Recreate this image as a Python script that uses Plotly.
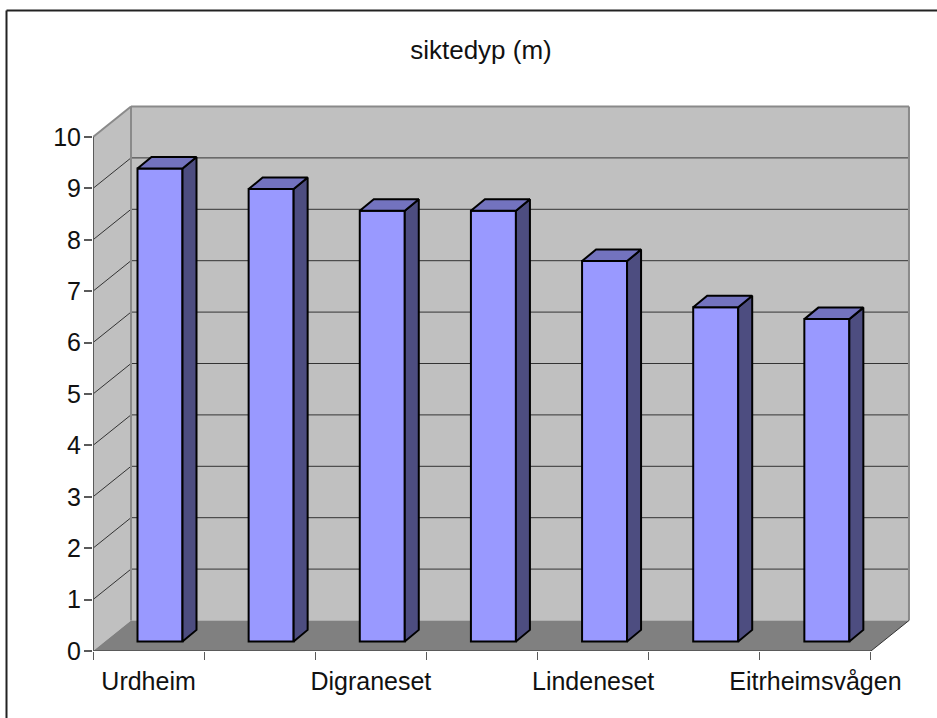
import plotly.graph_objects as go

title = "siktedyp (m)"
categories = ["Urdheim", "", "Digraneset", "", "Lindeneset", "", "Eitrheimsvågen"]
values = [9.2, 8.8, 8.38, 8.38, 7.4, 6.5, 6.27]
y_ticks = [0, 1, 2, 3, 4, 5, 6, 7, 8, 9, 10]

W, H = 937, 718
L, R, T, B = 93, 14, 100, 67
PX_X = 111.14   # pixels per category
PX_Y = 51.4     # pixels per value unit
n = len(categories)
ymax_tick = y_ticks[-1]

DX = 38 / PX_X       # full depth of the 3D box
DY = 30.5 / PX_Y
BAR_L = 44.5 / PX_X  # bar left edge in its category
BAR_W = 45 / PX_X
SHIFT_X = 12 / PX_X  # bar front plane offset
SHIFT_Y = 9.6 / PX_Y
SIDE_X = 14 / PX_X   # bar depth
SIDE_Y = 11.5 / PX_Y

x_max = (W - L - R) / PX_X
y_max = (H - T - B) / PX_Y

FRONT, SIDE, TOP = "#9999ff", "#4d4d80", "#7373bf"
WALL, FLOOR, EDGE = "#c0c0c0", "#808080", "#8a8a8a"
GRID, AXIS, OUTLINE = "#333333", "#5a5a5a", "#000000"
FONT = "Liberation Sans, Arial, sans-serif"


def poly(points, fill):
    d = "M " + " L ".join(f"{x} {y}" for x, y in points) + " Z"
    return dict(type="path", path=d, xref="x", yref="y", fillcolor=fill,
                line=dict(width=0), layer="below")


def seg(x0, y0, x1, y1, color, width):
    return dict(type="line", x0=x0, y0=y0, x1=x1, y1=y1, xref="x", yref="y",
                line=dict(color=color, width=width), layer="below")


def paper_line(px0, py0, px1, py1):
    pw, ph = W - L - R, H - T - B
    return dict(type="line", xref="paper", yref="paper",
                x0=(px0 - L) / pw, x1=(px1 - L) / pw,
                y0=(H - B - py0) / ph, y1=(H - B - py1) / ph,
                line=dict(color="#222222", width=2), layer="above")


shapes = [
    poly([(DX, DY), (n + DX, DY), (n + DX, ymax_tick + DY), (DX, ymax_tick + DY)], WALL),
    poly([(0, 0), (DX, DY), (DX, ymax_tick + DY), (0, ymax_tick)], WALL),
]
for t in y_ticks[1:-1]:
    shapes.append(seg(DX, t + DY, n + DX, t + DY, GRID, 1))
    shapes.append(seg(0, t, DX, t + DY, GRID, 1))
shapes += [
    seg(DX, DY, DX, ymax_tick + DY, EDGE, 2),
    seg(n + DX, DY, n + DX, ymax_tick + DY, EDGE, 2),
    seg(DX, ymax_tick + DY, n + DX, ymax_tick + DY, EDGE, 2),
    seg(0, ymax_tick, DX, ymax_tick + DY, EDGE, 2),
    poly([(0, 0), (n, 0), (n + DX, DY), (DX, DY)], FLOOR),
]
shapes += [
    paper_line(6.5, 10.5, W, 10.5),
    paper_line(6.5, 10.5, 6.5, H),
]

fig = go.Figure()

fig.add_trace(go.Bar(
    x=[i + BAR_L + BAR_W / 2 for i in range(n)],
    y=[v for v in values],
    base=SHIFT_Y,
    width=BAR_W,
    marker=dict(color=FRONT, line=dict(color=OUTLINE, width=2)),
    hoverinfo="skip",
))

for i, v in enumerate(values):
    x0 = i + BAR_L
    x1 = x0 + BAR_W
    y0 = SHIFT_Y
    y1 = SHIFT_Y + v
    fig.add_trace(go.Scatter(
        x=[x1, x1 + SIDE_X, x1 + SIDE_X, x1, x1],
        y=[y0, y0 + SIDE_Y, y1 + SIDE_Y, y1, y0],
        mode="lines", fill="toself", fillcolor=SIDE,
        line=dict(color=OUTLINE, width=2), hoverinfo="skip",
    ))
    fig.add_trace(go.Scatter(
        x=[x0, x1, x1 + SIDE_X, x0 + SIDE_X, x0],
        y=[y1, y1, y1 + SIDE_Y, y1 + SIDE_Y, y1],
        mode="lines", fill="toself", fillcolor=TOP,
        line=dict(color=OUTLINE, width=2), hoverinfo="skip",
    ))

# axis lines and the floor's right edge
fig.add_trace(go.Scatter(x=[0, 0], y=[0, ymax_tick], mode="lines", cliponaxis=False,
                         line=dict(color=AXIS, width=2), hoverinfo="skip"))
fig.add_trace(go.Scatter(x=[0, n], y=[0, 0], mode="lines", cliponaxis=False,
                         line=dict(color=AXIS, width=2), hoverinfo="skip"))
fig.add_trace(go.Scatter(x=[n, n + DX], y=[0, DY], mode="lines",
                         line=dict(color=GRID, width=1), hoverinfo="skip"))

label_pos = [i + 0.5 for i, c in enumerate(categories) if c]
label_txt = [c for c in categories if c]

fig.update_layout(
    width=W, height=H, autosize=False,
    margin=dict(l=L, r=R, t=T, b=B, pad=0),
    paper_bgcolor="white", plot_bgcolor="white",
    showlegend=False,
    font=dict(family=FONT, color="#111111", size=25),
    title=dict(text=title, x=481 / W, y=1 - 50 / H, xanchor="center", yanchor="middle",
               font=dict(family=FONT, size=26, color="#111111")),
    shapes=shapes,
    xaxis=dict(range=[0, x_max], tickmode="array", tickvals=label_pos, ticktext=label_txt,
               ticks="outside", ticklen=8, tickcolor="rgba(0,0,0,0)", showgrid=False,
               zeroline=False, showline=False, ticklabelstandoff=0,
               minor=dict(tickmode="array", tickvals=list(range(n + 1)), ticks="outside",
                          ticklen=8, tickcolor=AXIS, tickwidth=1, showgrid=False)),
    yaxis=dict(range=[0, y_max], tickmode="array", tickvals=y_ticks, ticks="outside",
               ticklen=8, tickcolor=AXIS, tickwidth=2, showgrid=False, zeroline=False,
               showline=False, ticklabelstandoff=-2),
)

fig.write_html("out.html", config=dict(displayModeBar=False),
               post_script="document.body.style.margin='0';")
